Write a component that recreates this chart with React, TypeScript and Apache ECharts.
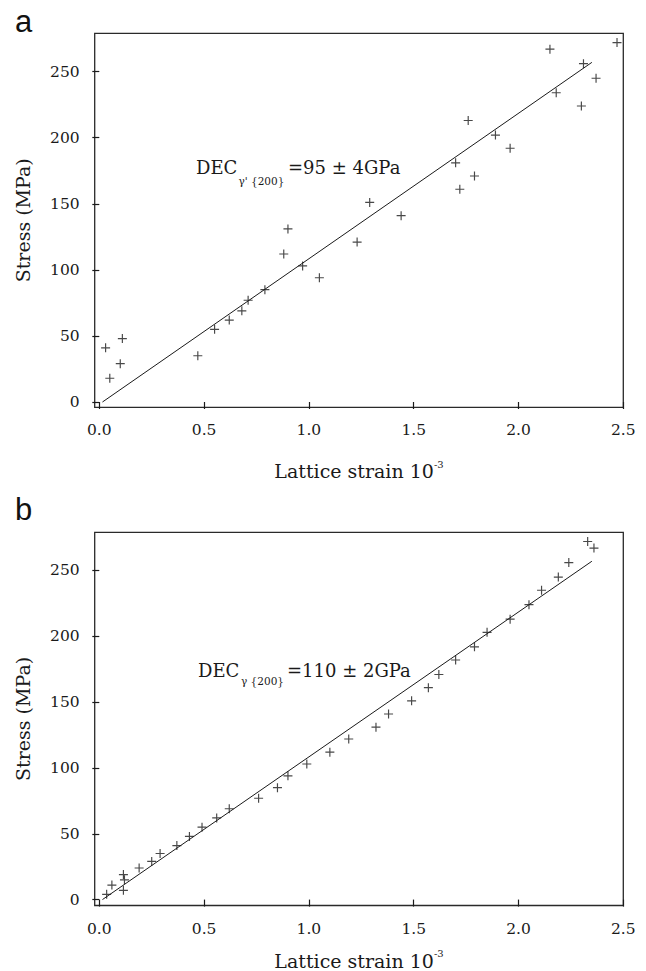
import React, { useEffect, useRef } from "react";
import * as echarts from "echarts";

// Panel a: gamma' {200}
const strainA = [0.03, 0.05, 0.10, 0.11, 0.47, 0.55, 0.62, 0.68, 0.71, 0.79, 0.88, 0.90, 0.97, 1.05, 1.23, 1.29, 1.44, 1.70, 1.72, 1.76, 1.79, 1.89, 1.96, 2.15, 2.18, 2.30, 2.31, 2.37, 2.47];
const stressA = [41, 18, 29, 48, 35, 55, 62, 69, 77, 85, 112, 131, 103, 94, 121, 151, 141, 181, 161, 213, 171, 202, 192, 267, 234, 224, 256, 245, 272];
const fitStrainA = [0.015, 2.35];
const fitStressA = [0, 257];

// Panel b: gamma {200}
const strainB = [0.035, 0.06, 0.115, 0.12, 0.115, 0.19, 0.25, 0.29, 0.37, 0.43, 0.49, 0.56, 0.62, 0.76, 0.85, 0.90, 0.99, 1.10, 1.19, 1.32, 1.38, 1.49, 1.57, 1.62, 1.70, 1.79, 1.85, 1.96, 2.05, 2.11, 2.19, 2.24, 2.33, 2.36];
const stressB = [4, 11, 19, 15, 7, 24, 29, 35, 41, 48, 55, 62, 69, 77, 85, 94, 103, 112, 122, 131, 141, 151, 161, 171, 182, 192, 203, 213, 224, 235, 245, 256, 272, 267];
const fitStrainB = [0.015, 2.35];
const fitStressB = [0, 257];

const xTicks = [0, 0.5, 1.0, 1.5, 2.0, 2.5];
const yTicks = [0, 50, 100, 150, 200, 250];

const SERIF = "DejaVu Serif";
const INK = "#1a1a1a";
const PLUS = "path://M0,4.35 H10 V5.65 H0 Z M4.35,0 H5.65 V10 H4.35 Z";

function pairs(xs: number[], ys: number[]) {
  return xs.map((x, i) => [x, ys[i]]);
}

function makeX(gridIndex: number, nameGap: number) {
  return {
    type: "value" as const,
    gridIndex,
    min: -0.022,
    max: 2.5,
    splitLine: { show: false },
    axisLine: { show: false },
    axisTick: { show: true, inside: false, length: 7, customValues: xTicks, lineStyle: { color: INK, width: 1.2 } },
    axisLabel: {
      show: true,
      customValues: xTicks,
      margin: 15,
      fontFamily: SERIF,
      fontSize: 15.5,
      color: INK,
      formatter: (v: number) => v.toFixed(1),
    },
    name: "{a|Lattice strain 10}{b|-3}",
    nameLocation: "middle" as const,
    nameGap,
    nameTextStyle: {
      rich: {
        a: { fontFamily: SERIF, fontSize: 19, color: INK, lineHeight: 24 },
        b: { fontFamily: SERIF, fontSize: 10, color: INK, verticalAlign: "top", lineHeight: 12 },
      },
    },
  };
}

function makeY(gridIndex: number, min: number) {
  return {
    type: "value" as const,
    gridIndex,
    min,
    max: 279,
    splitLine: { show: false },
    axisLine: { show: false },
    axisTick: { show: true, inside: false, length: 7, customValues: yTicks, lineStyle: { color: INK, width: 1.2 } },
    axisLabel: {
      show: true,
      customValues: yTicks,
      margin: 15,
      fontFamily: SERIF,
      fontSize: 15.5,
      color: INK,
    },
    name: "Stress (MPa)",
    nameLocation: "middle" as const,
    nameGap: 62,
    nameTextStyle: { fontFamily: SERIF, fontSize: 19, color: INK },
  };
}

function decLabel(left: number, cy: number, sub: string, main: string, subLeft: number, subCy: number, mainLeft: number) {
  return [
    { type: "text", left, top: cy - 11, style: { text: "DEC", fontFamily: SERIF, fontSize: 18, fill: INK } },
    { type: "text", left: subLeft, top: subCy - 7, style: { text: sub, fontFamily: SERIF, fontSize: 10.5, fill: INK } },
    { type: "text", left: mainLeft, top: cy - 11, style: { text: main, fontFamily: SERIF, fontSize: 18, fill: INK } },
  ];
}

export default function App() {
  const ref = useRef<HTMLDivElement>(null);
  useEffect(() => {
    if (!ref.current) return;
    const chart = echarts.init(ref.current, undefined, { renderer: "svg" });
    const grid = (top: number, height: number) => ({
      left: 94.7,
      top,
      width: 528.6,
      height,
      show: true,
      borderColor: "#2a2a2a",
      borderWidth: 1.3,
      backgroundColor: "transparent",
    });
    chart.setOption({
      animation: false,
      backgroundColor: "#fff",
      grid: [grid(33.3, 374), grid(532.3, 375.4)],
      xAxis: [makeX(0, 52), makeX(1, 43)],
      yAxis: [makeY(0, -4), makeY(1, -4.5)],
      series: [
        {
          type: "scatter",
          xAxisIndex: 0,
          yAxisIndex: 0,
          symbol: PLUS,
          symbolSize: 9,
          itemStyle: { color: INK },
          data: pairs(strainA, stressA),
        },
        {
          type: "line",
          xAxisIndex: 0,
          yAxisIndex: 0,
          showSymbol: false,
          symbol: "none",
          lineStyle: { color: INK, width: 1 },
          data: pairs(fitStrainA, fitStressA),
        },
        {
          type: "scatter",
          xAxisIndex: 1,
          yAxisIndex: 1,
          symbol: PLUS,
          symbolSize: 9,
          itemStyle: { color: INK },
          data: pairs(strainB, stressB),
        },
        {
          type: "line",
          xAxisIndex: 1,
          yAxisIndex: 1,
          showSymbol: false,
          symbol: "none",
          lineStyle: { color: INK, width: 1 },
          data: pairs(fitStrainB, fitStressB),
        },
      ],
      graphic: [
        { type: "text", left: 15, top: 6, style: { text: "a", fontFamily: "Liberation Sans", fontSize: 31, fill: "#111" } },
        { type: "text", left: 15, top: 494, style: { text: "b", fontFamily: "Liberation Sans", fontSize: 31, fill: "#111" } },
        ...decLabel(196, 169.5, "γ' {200}", "=95 ± 4GPa", 238.5, 182, 288),
        ...decLabel(198, 672.5, "γ {200}", "=110 ± 2GPa", 241, 682.5, 287),
      ],
    });
    return () => chart.dispose();
  }, []);
  return <div ref={ref} style={{ position: "absolute", left: 0, top: 0, width: 646, height: 971 }} />;
}
